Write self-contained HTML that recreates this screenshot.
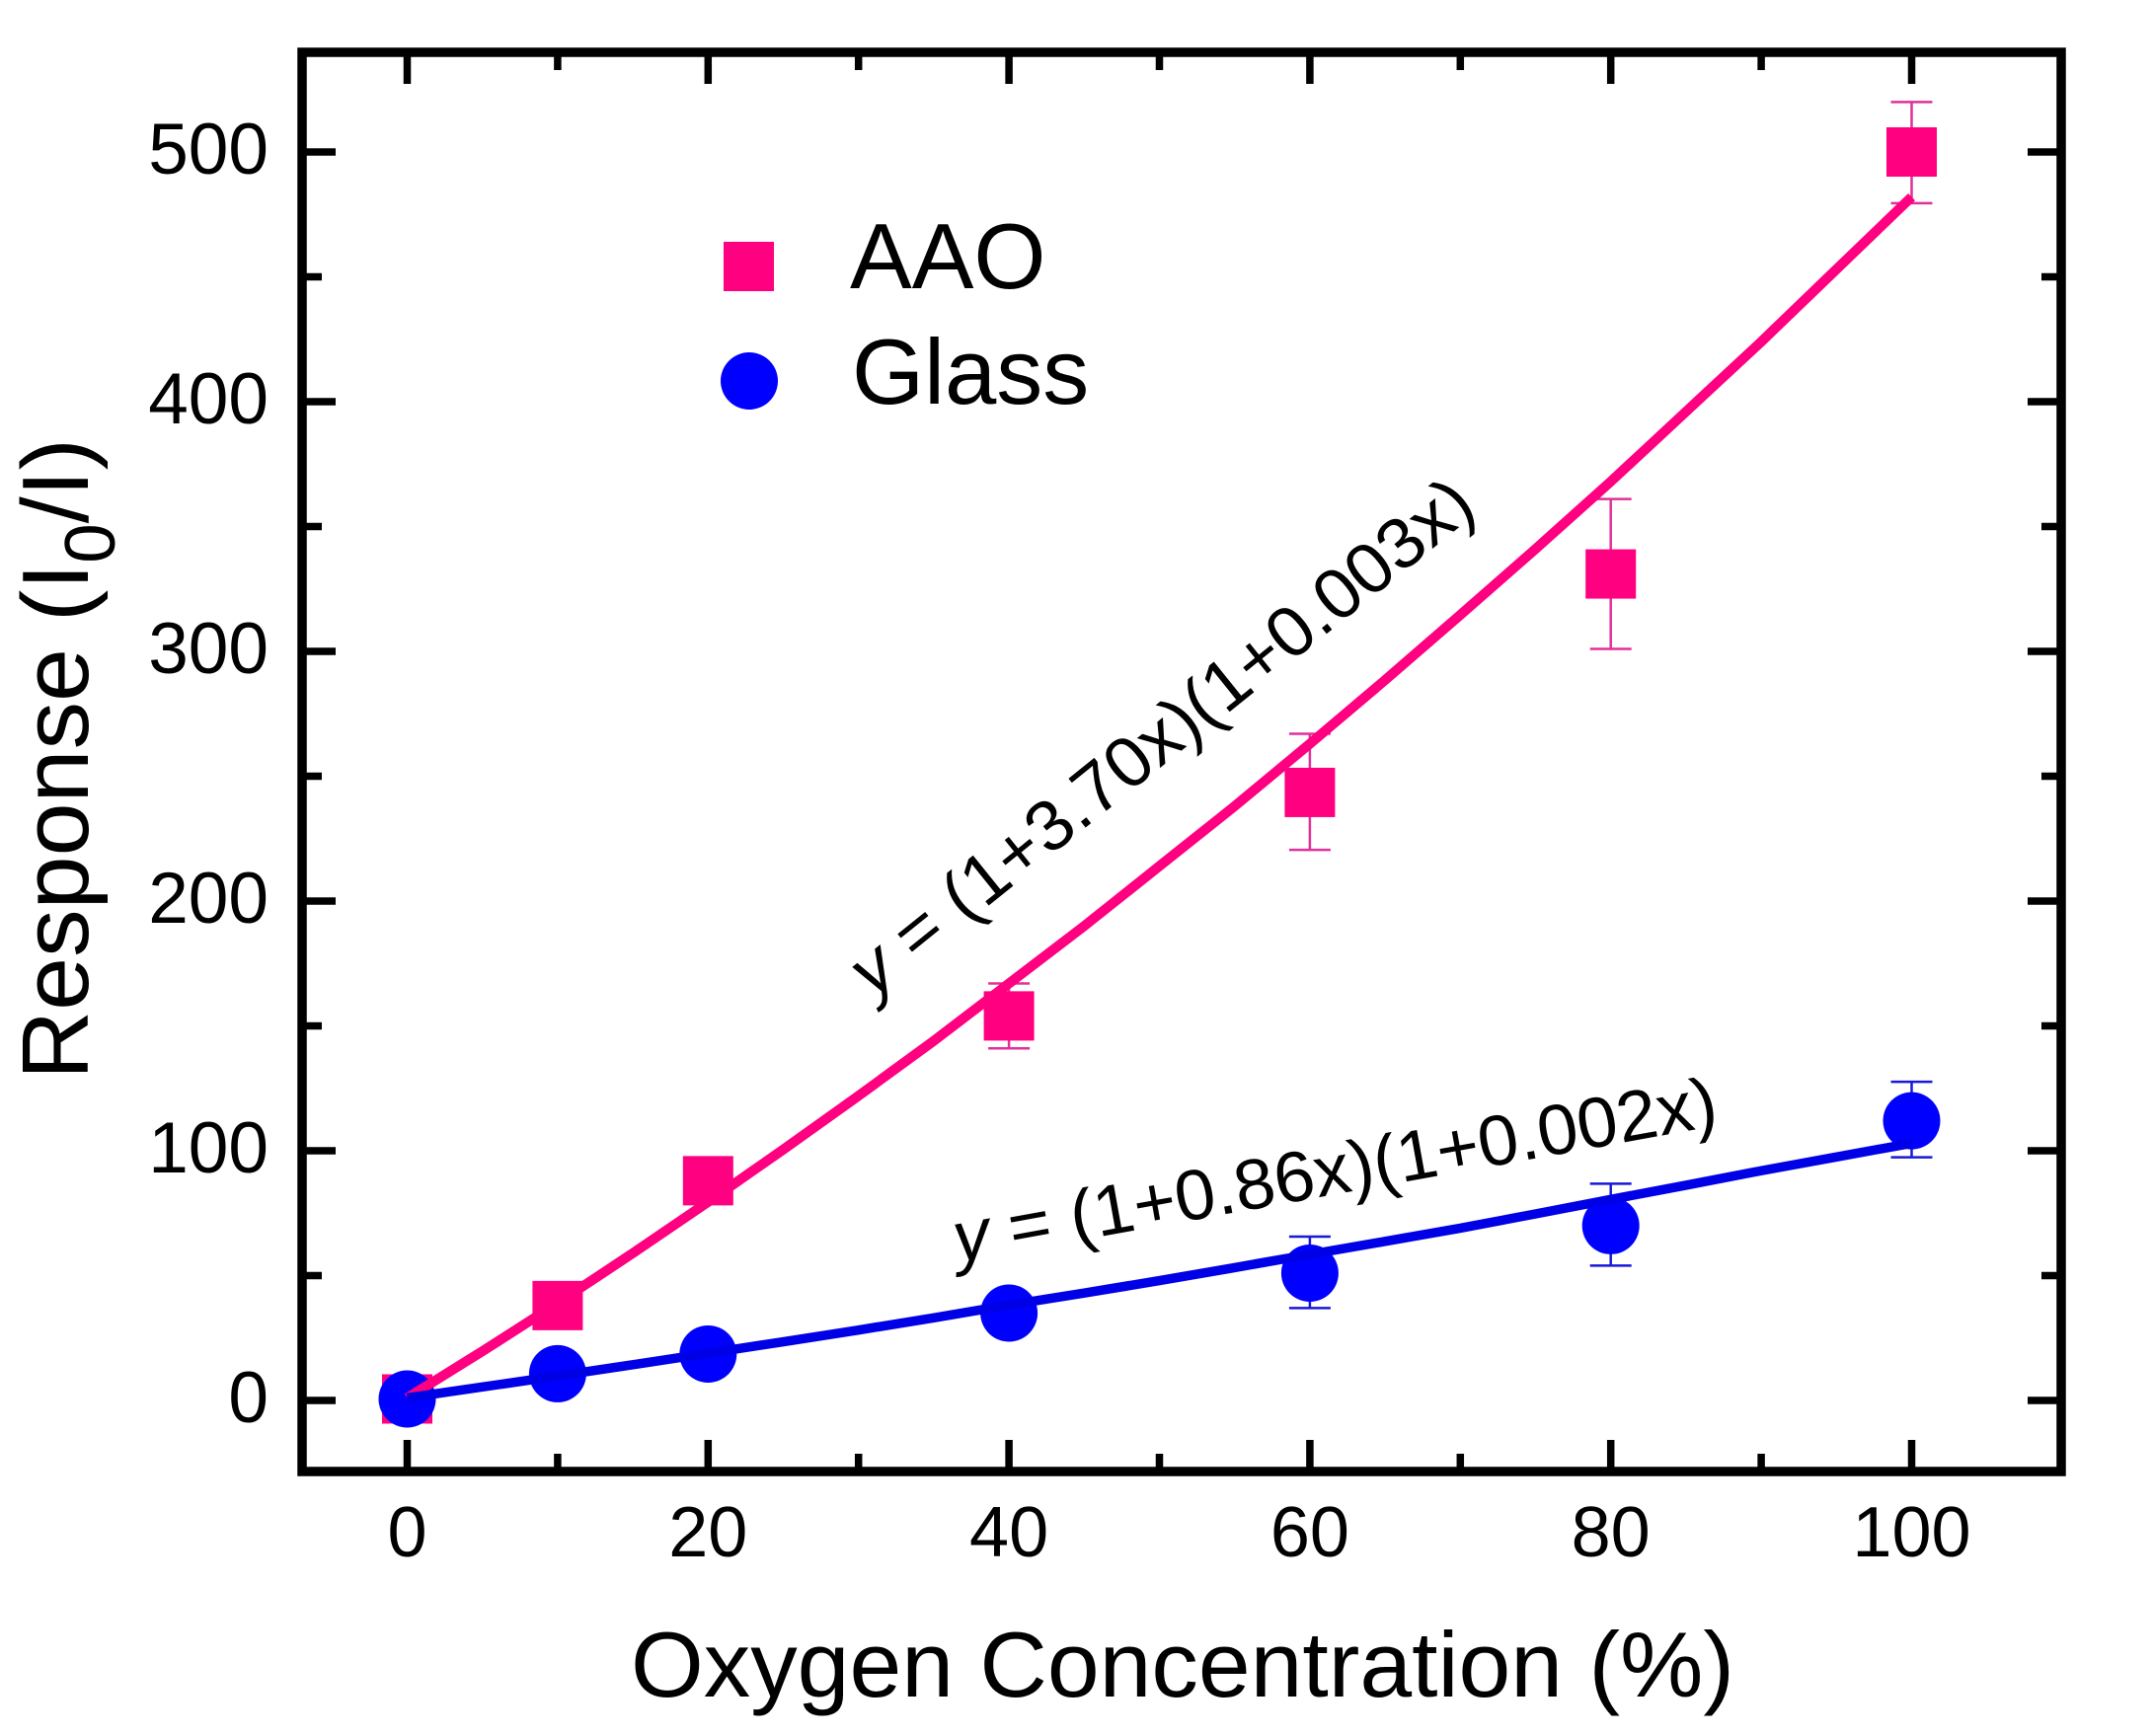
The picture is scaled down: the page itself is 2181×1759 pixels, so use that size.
<!DOCTYPE html>
<html lang="en">
<head>
<meta charset="utf-8">
<title>Oxygen response chart</title>
<style>
html,body{margin:0;padding:0;background:#fff;}
svg{display:block;font-family:"Liberation Sans",sans-serif;fill:#000;}
</style>
</head>
<body>
<svg id="chart" xmlns="http://www.w3.org/2000/svg" width="2181" height="1759" viewBox="0 0 2181 1759">
  <rect x="0" y="0" width="2181" height="1759" fill="#fff"/>
  <g id="series"></g>
  <g id="axes"></g>
  <rect x="306" y="53" width="1782" height="1438" fill="none" stroke="#000" stroke-width="9.5"/>
  <text x="639" y="1719" font-size="94" textLength="1118" lengthAdjust="spacingAndGlyphs">Oxygen Concentration (%)</text>
  <text transform="translate(89,1094) rotate(-90)" font-size="96" textLength="650" lengthAdjust="spacingAndGlyphs">Response (I<tspan font-size="72" dy="27">0</tspan><tspan dy="-27">/I)</tspan></text>
  <g>
    <rect x="733" y="245" width="51" height="50" fill="#ff0080"/>
    <text x="861" y="292" font-size="94">AAO</text>
    <ellipse cx="759" cy="386" rx="29" ry="29" fill="#0000ff"/>
    <text x="863" y="409" font-size="94">Glass</text>
  </g>
  <text transform="translate(884,1012) rotate(-38.8)" font-size="72" textLength="788" lengthAdjust="spacingAndGlyphs"><tspan font-style="italic">y</tspan> = (1+3.70x)(1+0.003x)</text>
  <text transform="translate(970,1279) rotate(-10.2)" font-size="72" textLength="785" lengthAdjust="spacingAndGlyphs"><tspan font-style="italic">y</tspan> = (1+0.86x)(1+0.002x)</text>
</svg>
<script>
const concentrations = [0, 10, 20, 40, 60, 80, 100];
const aaoValues = [0.6, 38, 88, 154, 243.5, 331, 500];
const aaoHigh = [0.6, 38, 88, 167, 267, 361, 520];
const aaoLow = [0.6, 38, 88, 141, 220.5, 301, 479.5];
const glassValues = [0.6, 10.7, 18.6, 35, 51, 70, 112];
const glassHigh = [0.6, 10.7, 18.6, 35, 65.6, 86.8, 127.6];
const glassLow = [0.6, 10.7, 18.6, 35, 37, 54, 97.4];
const fitConcentrations = [0, 5, 10, 15, 20, 25, 30, 35, 40, 45, 50, 55, 60, 65, 70, 75, 80, 85, 90, 95, 100];
const aaoFit = [1, 19.7, 39, 59, 79.5, 100.5, 122, 144, 167, 190, 214, 238, 263, 288.5, 314.6, 341, 368, 396, 424, 453, 482];
const glassFit = [1, 5.4, 9.8, 14.3, 18.9, 23.5, 28.2, 33.1, 38.2, 43, 48, 53.2, 58.5, 63.7, 69, 74.7, 80.5, 86.2, 92, 97.5, 103];
const xMajorTicks = [0, 20, 40, 60, 80, 100];
const xMinorTicks = [10, 30, 50, 70, 90];
const yMajorTicks = [0, 100, 200, 300, 400, 500];
const yMinorTicks = [50, 150, 250, 350, 450];

const NS = 'http://www.w3.org/2000/svg';
const xScale = v => 412.5 + v * 15.24;
const yScale = v => 1419 - v * 2.53;
const seriesLayer = document.getElementById('series');
const axesLayer = document.getElementById('axes');

function makeLine(parent, x1, y1, x2, y2, color, width) {
  const el = document.createElementNS(NS, 'line');
  el.setAttribute('x1', x1);
  el.setAttribute('y1', y1);
  el.setAttribute('x2', x2);
  el.setAttribute('y2', y2);
  el.setAttribute('stroke', color);
  el.setAttribute('stroke-width', width);
  parent.appendChild(el);
  return el;
}

function drawTicks(values, len, width, kind) {
  values.forEach(v => {
    const x = xScale(v);
    const bottom = makeLine(axesLayer, x, 1491, x, 1491 - len, '#000', width);
    
    
    const top = makeLine(axesLayer, x, 53, x, 53 + len, '#000', width);
    
    
  });
}

function drawYTicks(values, len, width, kind) {
  values.forEach(v => {
    const y = yScale(v);
    const left = makeLine(axesLayer, 306, y, 306 + len, y, '#000', width);
    
    
    const right = makeLine(axesLayer, 2088, y, 2088 - len, y, '#000', width);
    
    
  });
}

drawTicks(xMajorTicks, 32, 7.5, 'major');
drawTicks(xMinorTicks, 18, 7.5, 'minor');
drawYTicks(yMajorTicks, 34, 7.5, 'major');
drawYTicks(yMinorTicks, 20, 7.5, 'minor');

xMajorTicks.forEach(v => {
  const t = document.createElementNS(NS, 'text');
  t.setAttribute('x', xScale(v));
  t.setAttribute('y', 1577);
  t.setAttribute('font-size', 72);
  t.setAttribute('text-anchor', 'middle');
  
  
  t.textContent = v;
  axesLayer.appendChild(t);
});

yMajorTicks.forEach(v => {
  const t = document.createElementNS(NS, 'text');
  t.setAttribute('x', 272);
  t.setAttribute('y', yScale(v) + 22);
  t.setAttribute('font-size', 73);
  t.setAttribute('text-anchor', 'end');
  
  
  t.textContent = v;
  axesLayer.appendChild(t);
});

function drawErrors(high, low, color) {
  concentrations.forEach((c, i) => {
    const x = xScale(c);
    const stem = makeLine(seriesLayer, x, yScale(high[i]), x, yScale(low[i]), color, 2.5);
    
    
    const capTop = makeLine(seriesLayer, x - 21, yScale(high[i]), x + 21, yScale(high[i]), color, 2.5);
    
    
    const capBottom = makeLine(seriesLayer, x - 21, yScale(low[i]), x + 21, yScale(low[i]), color, 2.5);
    
    
  });
}

drawErrors(aaoHigh, aaoLow, '#e0309a');
drawErrors(glassHigh, glassLow, '#1818d8');

aaoValues.forEach((v, i) => {
  const r = document.createElementNS(NS, 'rect');
  r.setAttribute('x', xScale(concentrations[i]) - 25.5);
  r.setAttribute('y', yScale(v) - 25);
  r.setAttribute('width', 51);
  r.setAttribute('height', 50);
  r.setAttribute('fill', '#ff0080');
  
  
  seriesLayer.appendChild(r);
});

glassValues.forEach((v, i) => {
  const c = document.createElementNS(NS, 'ellipse');
  c.setAttribute('cx', xScale(concentrations[i]));
  c.setAttribute('cy', yScale(v));
  c.setAttribute('rx', 29);
  c.setAttribute('ry', 29);
  c.setAttribute('fill', '#0000ff');
  
  
  seriesLayer.appendChild(c);
});

function drawFit(values, color, width) {
  const p = document.createElementNS(NS, 'polyline');
  p.setAttribute('points', fitConcentrations.map((c, i) => xScale(c) + ',' + yScale(values[i])).join(' '));
  p.setAttribute('fill', 'none');
  p.setAttribute('stroke', color);
  p.setAttribute('stroke-width', width);
  p.setAttribute('stroke-linejoin', 'round');
  seriesLayer.appendChild(p);
  return p;
}

const aaoLine = drawFit(aaoFit, '#ff0080', 10);


const glassLine = drawFit(glassFit, '#0000e6', 9.5);


</script>
</body>
</html>
